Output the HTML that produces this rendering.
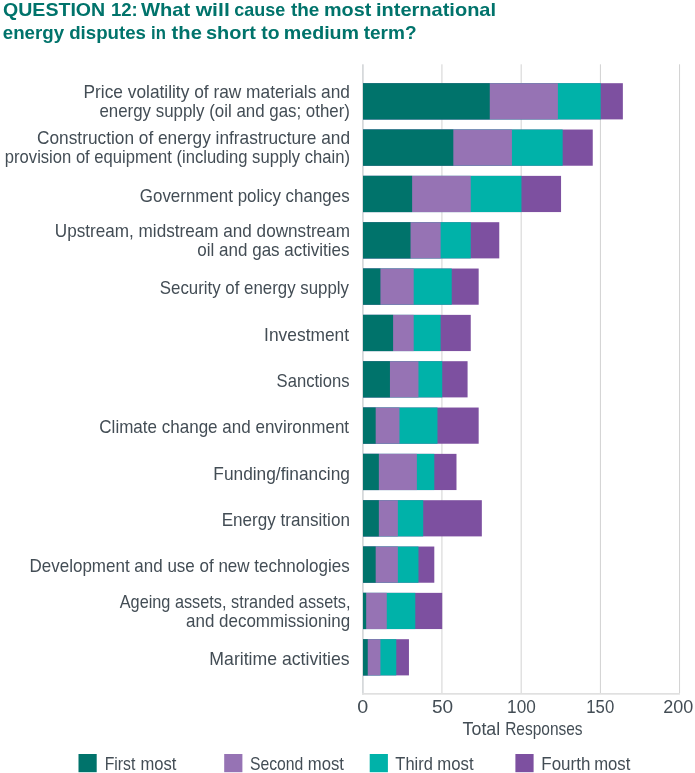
<!DOCTYPE html>
<html lang="en"><head><meta charset="utf-8"><title>Question 12</title>
<style>
html,body{margin:0;padding:0;background:#fff;}
svg{display:block;font-family:"Liberation Sans",sans-serif;}
.t{font-weight:bold;font-size:19px;fill:#00736b;}
.l{font-size:17.8px;fill:#434d55;}
</style></head><body>
<svg width="695" height="773" viewBox="0 0 695 773">
<rect width="695" height="773" fill="#fff"/>
<rect x="441.48" y="64.3" width="0.9" height="629" fill="#cdcdcd"/>
<rect x="520.70" y="64.3" width="0.9" height="629" fill="#cdcdcd"/>
<rect x="599.92" y="64.3" width="0.9" height="629" fill="#cdcdcd"/>
<rect x="679.15" y="64.3" width="0.9" height="629" fill="#cdcdcd"/>
<rect x="362.1" y="64.3" width="1.6" height="630.3" fill="#d2d5d8"/>
<rect x="362.1" y="693.0" width="317.8" height="1.7" fill="#e0e0e0"/>
<rect x="363.00" y="83.20" width="259.86" height="36.20" fill="#7d50a0"/>
<rect x="363.00" y="83.20" width="237.68" height="36.20" fill="#00b2a9"/>
<rect x="363.00" y="83.20" width="194.89" height="36.20" fill="#9673b4"/>
<rect x="363.00" y="83.20" width="126.76" height="36.20" fill="#00736b"/>
<rect x="363.00" y="129.53" width="229.75" height="36.20" fill="#7d50a0"/>
<rect x="363.00" y="129.53" width="199.65" height="36.20" fill="#00b2a9"/>
<rect x="363.00" y="129.53" width="148.94" height="36.20" fill="#9673b4"/>
<rect x="363.00" y="129.53" width="90.32" height="36.20" fill="#00736b"/>
<rect x="363.00" y="175.87" width="198.06" height="36.20" fill="#7d50a0"/>
<rect x="363.00" y="175.87" width="158.45" height="36.20" fill="#00b2a9"/>
<rect x="363.00" y="175.87" width="107.75" height="36.20" fill="#9673b4"/>
<rect x="363.00" y="175.87" width="49.12" height="36.20" fill="#00736b"/>
<rect x="363.00" y="222.20" width="136.27" height="36.20" fill="#7d50a0"/>
<rect x="363.00" y="222.20" width="107.75" height="36.20" fill="#00b2a9"/>
<rect x="363.00" y="222.20" width="77.64" height="36.20" fill="#9673b4"/>
<rect x="363.00" y="222.20" width="47.54" height="36.20" fill="#00736b"/>
<rect x="363.00" y="268.53" width="115.67" height="36.20" fill="#7d50a0"/>
<rect x="363.00" y="268.53" width="88.73" height="36.20" fill="#00b2a9"/>
<rect x="363.00" y="268.53" width="50.70" height="36.20" fill="#9673b4"/>
<rect x="363.00" y="268.53" width="17.43" height="36.20" fill="#00736b"/>
<rect x="363.00" y="314.87" width="107.75" height="36.20" fill="#7d50a0"/>
<rect x="363.00" y="314.87" width="77.64" height="36.20" fill="#00b2a9"/>
<rect x="363.00" y="314.87" width="50.70" height="36.20" fill="#9673b4"/>
<rect x="363.00" y="314.87" width="30.11" height="36.20" fill="#00736b"/>
<rect x="363.00" y="361.20" width="104.58" height="36.20" fill="#7d50a0"/>
<rect x="363.00" y="361.20" width="79.22" height="36.20" fill="#00b2a9"/>
<rect x="363.00" y="361.20" width="55.46" height="36.20" fill="#9673b4"/>
<rect x="363.00" y="361.20" width="26.94" height="36.20" fill="#00736b"/>
<rect x="363.00" y="407.53" width="115.67" height="36.20" fill="#7d50a0"/>
<rect x="363.00" y="407.53" width="74.47" height="36.20" fill="#00b2a9"/>
<rect x="363.00" y="407.53" width="36.44" height="36.20" fill="#9673b4"/>
<rect x="363.00" y="407.53" width="12.68" height="36.20" fill="#00736b"/>
<rect x="363.00" y="453.86" width="93.49" height="36.20" fill="#7d50a0"/>
<rect x="363.00" y="453.86" width="71.30" height="36.20" fill="#00b2a9"/>
<rect x="363.00" y="453.86" width="53.87" height="36.20" fill="#9673b4"/>
<rect x="363.00" y="453.86" width="15.85" height="36.20" fill="#00736b"/>
<rect x="363.00" y="500.20" width="118.84" height="36.20" fill="#7d50a0"/>
<rect x="363.00" y="500.20" width="60.21" height="36.20" fill="#00b2a9"/>
<rect x="363.00" y="500.20" width="34.86" height="36.20" fill="#9673b4"/>
<rect x="363.00" y="500.20" width="15.85" height="36.20" fill="#00736b"/>
<rect x="363.00" y="546.53" width="71.30" height="36.20" fill="#7d50a0"/>
<rect x="363.00" y="546.53" width="55.46" height="36.20" fill="#00b2a9"/>
<rect x="363.00" y="546.53" width="34.86" height="36.20" fill="#9673b4"/>
<rect x="363.00" y="546.53" width="12.68" height="36.20" fill="#00736b"/>
<rect x="363.00" y="592.86" width="79.22" height="36.20" fill="#7d50a0"/>
<rect x="363.00" y="592.86" width="52.29" height="36.20" fill="#00b2a9"/>
<rect x="363.00" y="592.86" width="23.77" height="36.20" fill="#9673b4"/>
<rect x="363.00" y="592.86" width="3.17" height="36.20" fill="#00736b"/>
<rect x="363.00" y="639.20" width="45.95" height="36.20" fill="#7d50a0"/>
<rect x="363.00" y="639.20" width="33.27" height="36.20" fill="#00b2a9"/>
<rect x="363.00" y="639.20" width="17.43" height="36.20" fill="#9673b4"/>
<rect x="363.00" y="639.20" width="4.75" height="36.20" fill="#00736b"/>
<rect x="78.5" y="754" width="18.2" height="18.2" fill="#00736b"/>
<rect x="224.2" y="754" width="18.2" height="18.2" fill="#9673b4"/>
<rect x="369.7" y="754" width="18.2" height="18.2" fill="#00b2a9"/>
<rect x="515.4" y="754" width="18.2" height="18.2" fill="#7d50a0"/>
<text class="t" y="16.0">
<tspan x="3.04" textLength="102.16" lengthAdjust="spacingAndGlyphs">QUESTION</tspan> 
<tspan x="110.97" textLength="26.80" lengthAdjust="spacingAndGlyphs">12:</tspan> 
<tspan x="140.92" textLength="49.25" lengthAdjust="spacingAndGlyphs">What</tspan> 
<tspan x="195.67" textLength="34.13" lengthAdjust="spacingAndGlyphs">will</tspan> 
<tspan x="234.26" textLength="50.94" lengthAdjust="spacingAndGlyphs">cause</tspan> 
<tspan x="290.98" textLength="28.40" lengthAdjust="spacingAndGlyphs">the</tspan> 
<tspan x="323.98" textLength="47.33" lengthAdjust="spacingAndGlyphs">most</tspan> 
<tspan x="375.93" textLength="120.14" lengthAdjust="spacingAndGlyphs">international</tspan>
</text>
<text class="t" y="39.0">
<tspan x="2.74" textLength="61.31" lengthAdjust="spacingAndGlyphs">energy</tspan> 
<tspan x="69.14" textLength="76.84" lengthAdjust="spacingAndGlyphs">disputes</tspan> 
<tspan x="151.00" textLength="14.86" lengthAdjust="spacingAndGlyphs">in</tspan> 
<tspan x="171.61" textLength="30.29" lengthAdjust="spacingAndGlyphs">the</tspan> 
<tspan x="206.02" textLength="49.85" lengthAdjust="spacingAndGlyphs">short</tspan> 
<tspan x="261.30" textLength="18.27" lengthAdjust="spacingAndGlyphs">to</tspan> 
<tspan x="283.78" textLength="75.34" lengthAdjust="spacingAndGlyphs">medium</tspan> 
<tspan x="363.63" textLength="52.92" lengthAdjust="spacingAndGlyphs">term?</tspan>
</text>
<text class="l" y="98.0">
<tspan x="83.54" textLength="266.45" lengthAdjust="spacingAndGlyphs">Price volatility of raw materials and</tspan>
</text>
<text class="l" y="117.0">
<tspan x="99.40" textLength="250.56" lengthAdjust="spacingAndGlyphs">energy supply (oil and gas; other)</tspan>
</text>
<text class="l" y="144.0">
<tspan x="37.04" textLength="313.00" lengthAdjust="spacingAndGlyphs">Construction of energy infrastructure and</tspan>
</text>
<text class="l" y="163.0">
<tspan x="4.85" textLength="345.08" lengthAdjust="spacingAndGlyphs">provision of equipment (including supply chain)</tspan>
</text>
<text class="l" y="202.0">
<tspan x="139.82" textLength="209.81" lengthAdjust="spacingAndGlyphs">Government policy changes</tspan>
</text>
<text class="l" y="237.0">
<tspan x="54.84" textLength="295.10" lengthAdjust="spacingAndGlyphs">Upstream, midstream and downstream</tspan>
</text>
<text class="l" y="256.0">
<tspan x="197.37" textLength="152.14" lengthAdjust="spacingAndGlyphs">oil and gas activities</tspan>
</text>
<text class="l" y="294.0">
<tspan x="159.84" textLength="189.18" lengthAdjust="spacingAndGlyphs">Security of energy supply</tspan>
</text>
<text class="l" y="341.0">
<tspan x="264.12" textLength="84.98" lengthAdjust="spacingAndGlyphs">Investment</tspan>
</text>
<text class="l" y="387.0">
<tspan x="276.62" textLength="72.93" lengthAdjust="spacingAndGlyphs">Sanctions</tspan>
</text>
<text class="l" y="433.0">
<tspan x="99.34" textLength="249.77" lengthAdjust="spacingAndGlyphs">Climate change and environment</tspan>
</text>
<text class="l" y="480.0">
<tspan x="213.34" textLength="136.61" lengthAdjust="spacingAndGlyphs">Funding/financing</tspan>
</text>
<text class="l" y="526.0">
<tspan x="221.67" textLength="128.25" lengthAdjust="spacingAndGlyphs">Energy transition</tspan>
</text>
<text class="l" y="572.0">
<tspan x="29.54" textLength="320.12" lengthAdjust="spacingAndGlyphs">Development and use of new technologies</tspan>
</text>
<text class="l" y="608.0">
<tspan x="119.74" textLength="230.69" lengthAdjust="spacingAndGlyphs">Ageing assets, stranded assets,</tspan>
</text>
<text class="l" y="627.0">
<tspan x="186.05" textLength="164.06" lengthAdjust="spacingAndGlyphs">and decommissioning</tspan>
</text>
<text class="l" y="665.0">
<tspan x="209.37" textLength="140.26" lengthAdjust="spacingAndGlyphs">Maritime activities</tspan>
</text>
<text class="l" y="712.9">
<tspan x="357.17" textLength="10.98" lengthAdjust="spacingAndGlyphs">0</tspan>
</text>
<text class="l" y="712.9">
<tspan x="431.96" textLength="21.15" lengthAdjust="spacingAndGlyphs">50</tspan>
</text>
<text class="l" y="712.9">
<tspan x="507.10" textLength="28.68" lengthAdjust="spacingAndGlyphs">100</tspan>
</text>
<text class="l" y="712.9">
<tspan x="586.30" textLength="27.92" lengthAdjust="spacingAndGlyphs">150</tspan>
</text>
<text class="l" y="712.9">
<tspan x="663.20" textLength="29.99" lengthAdjust="spacingAndGlyphs">200</tspan>
</text>
<text class="l" y="734.8">
<tspan x="462.59" textLength="37.61" lengthAdjust="spacingAndGlyphs">Total</tspan> 
<tspan x="505.16" textLength="77.42" lengthAdjust="spacingAndGlyphs">Responses</tspan>
</text>
<text class="l" y="770.0">
<tspan x="104.66" textLength="30.71" lengthAdjust="spacingAndGlyphs">First</tspan> 
<tspan x="140.46" textLength="35.94" lengthAdjust="spacingAndGlyphs">most</tspan>
</text>
<text class="l" y="770.0">
<tspan x="249.92" textLength="53.41" lengthAdjust="spacingAndGlyphs">Second</tspan> 
<tspan x="307.78" textLength="36.16" lengthAdjust="spacingAndGlyphs">most</tspan>
</text>
<text class="l" y="770.0">
<tspan x="395.37" textLength="37.44" lengthAdjust="spacingAndGlyphs">Third</tspan> 
<tspan x="437.30" textLength="36.28" lengthAdjust="spacingAndGlyphs">most</tspan>
</text>
<text class="l" y="770.0">
<tspan x="541.34" textLength="49.00" lengthAdjust="spacingAndGlyphs">Fourth</tspan> 
<tspan x="594.18" textLength="36.19" lengthAdjust="spacingAndGlyphs">most</tspan>
</text>
</svg></body></html>
